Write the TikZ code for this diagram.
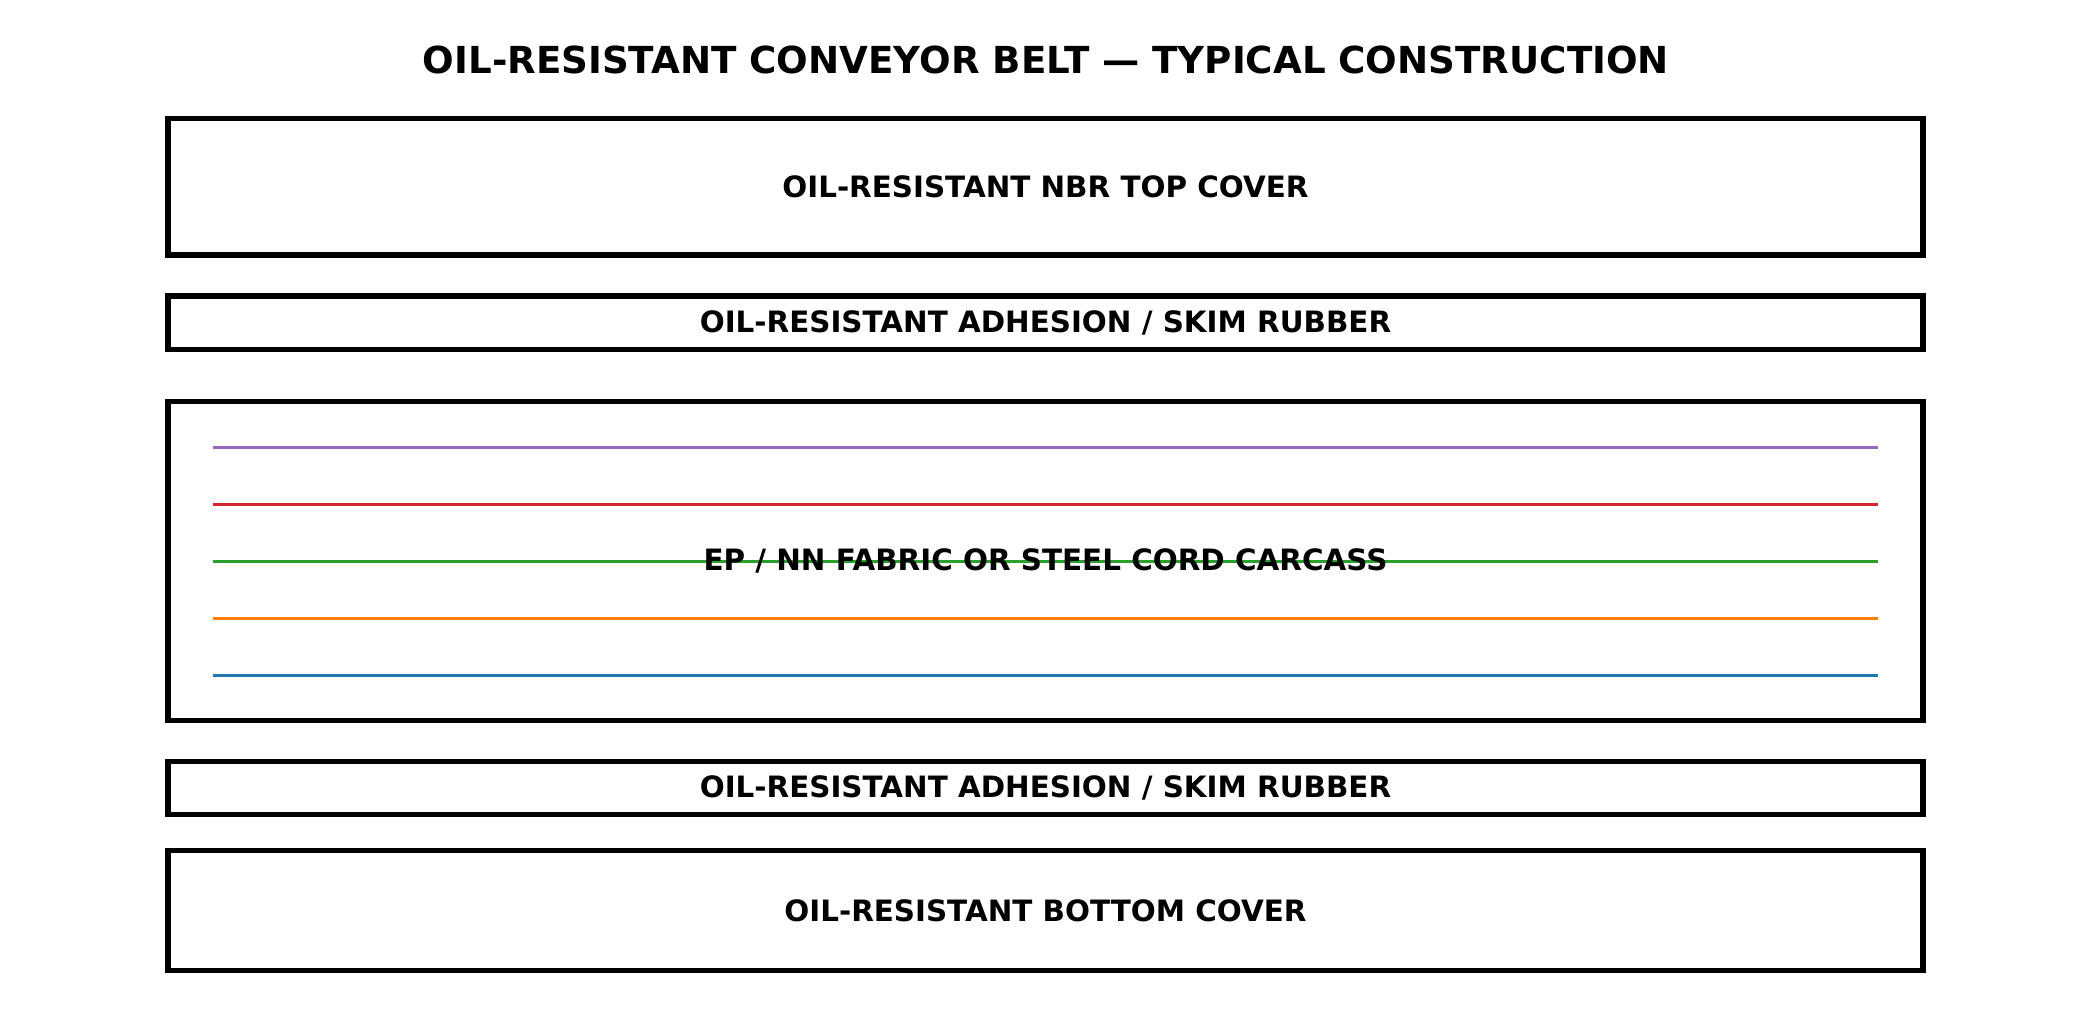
\documentclass[tikz,border=0pt]{standalone}
\usepackage{fontspec}
\setmainfont{DejaVu Sans}
\usetikzlibrary{positioning}

\definecolor{plyblue}{HTML}{1F77B4}
\definecolor{plyorange}{HTML}{FF7F0E}
\definecolor{plygreen}{HTML}{2CA02C}
\definecolor{plyred}{HTML}{D62728}
\definecolor{plypurple}{HTML}{9467BD}

\begin{document}
\begin{tikzpicture}[x=0.5pt,y=-0.5pt,
		layer/.style={rectangle,draw,line width=2.6pt,minimum width=877.5pt,inner sep=0pt,align=center,font=\fontsize{14.7}{18}\selectfont\bfseries},
		layertext/.style={font=\fontsize{14.7}{18}\selectfont\bfseries},
		ply/.style={line width=1.5pt}]

		\useasboundingbox (0,0) rectangle (2091,1027);

		\node[font=\fontsize{18.6}{22}\selectfont\bfseries] (title) at (1046,60) {OIL-RESISTANT CONVEYOR BELT — TYPICAL CONSTRUCTION};

		\node[layer,minimum height=68.25pt] (top) at (1045.5,186.75) {OIL-RESISTANT NBR TOP COVER};
		\node[layer,minimum height=26.75pt] (skimA) at (1045.5,322.75) {OIL-RESISTANT ADHESION / SKIM RUBBER};
		\node[layer,minimum height=159.5pt] (carcass) at (1045.5,561) {};
		\node[layer,minimum height=26.75pt] (skimB) at (1045.5,788) {OIL-RESISTANT ADHESION / SKIM RUBBER};
		\node[layer,minimum height=60pt] (bottom) at (1045.5,910.75) {OIL-RESISTANT BOTTOM COVER};

		% plies in the carcass, bottom to top
		\foreach \c [count=\i] in {plyblue,plyorange,plygreen,plyred,plypurple}
			\draw[ply,\c] ([xshift=24pt,yshift={(\i-3)*28.5pt}]carcass.west) -- ([xshift=-24pt,yshift={(\i-3)*28.5pt}]carcass.east);

		\node[layertext] (carcasslabel) at (carcass.center) {EP / NN FABRIC OR STEEL CORD CARCASS};

\end{tikzpicture}
\end{document}
